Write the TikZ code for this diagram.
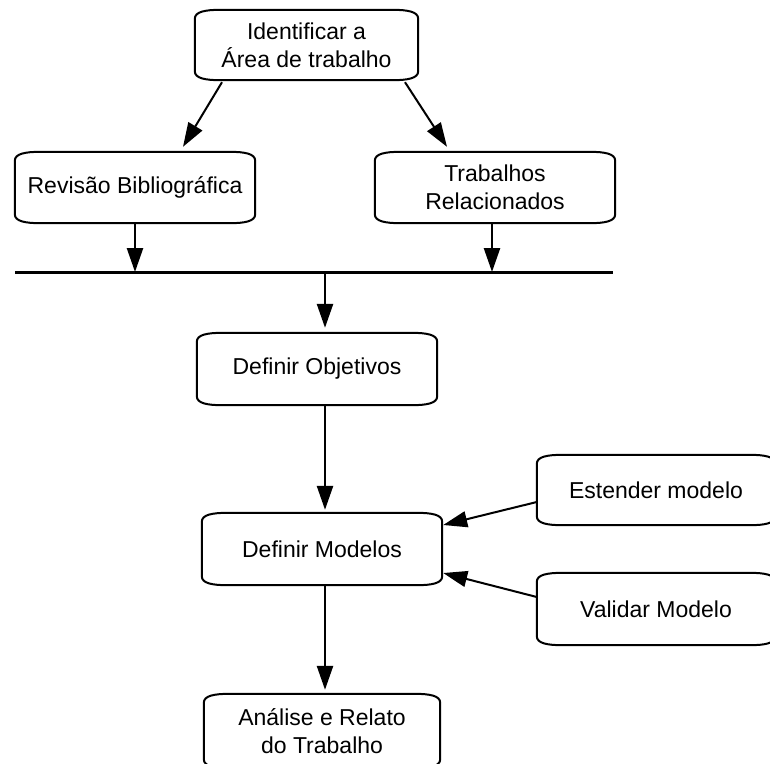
\documentclass[tikz,border=0pt]{standalone}
\usepackage{fontspec}
\setmainfont{Liberation Sans}
\usetikzlibrary{arrows.meta,calc}
\tikzset{
  boxn/.style={draw=none,inner sep=0pt,align=center,font=\fontsize{23}{28}\selectfont,minimum height=71pt},
  boxline/.style={line width=2pt,line join=round},
  arr/.style={line width=2.5pt,-{Triangle[length=24pt,width=16pt]}},
  arrthin/.style={line width=2pt,-{Triangle[length=24pt,width=16pt]}},
}
\newcommand\shapebox[1]{%
  \draw[boxline] ($(#1.north west)+(0,9)$) .. controls ($(#1.north west)+(0,2)$) and ($(#1.north west)+(10,0)$) .. ($(#1.north west)+(26,0)$)
   -- ($(#1.north east)+(-26,0)$) .. controls ($(#1.north east)+(-10,0)$) and ($(#1.north east)+(0,2)$) .. ($(#1.north east)+(0,9)$)
   -- ($(#1.south east)+(0,-9)$) .. controls ($(#1.south east)+(0,-2)$) and ($(#1.south east)+(-10,0)$) .. ($(#1.south east)+(-26,0)$)
   -- ($(#1.south west)+(26,0)$) .. controls ($(#1.south west)+(10,0)$) and ($(#1.south west)+(0,-2)$) .. ($(#1.south west)+(0,-9)$)
   -- cycle;}
\begin{document}
\begin{tikzpicture}[x=1pt,y=-1pt]
\useasboundingbox (0,0) rectangle (770,763);
\clip (0,0) rectangle (770,763);
\node[boxn,minimum width=223pt,minimum height=70pt] (top) at (306.5,45) {Identificar a\\Área de trabalho};
\node[boxn,minimum width=240pt] (rev) at (135,187.5) {Revisão Bibliográfica};
\node[boxn,minimum width=240pt] (trab) at (495,187.5) {Trabalhos\\Relacionados};
\node[boxn,minimum width=240pt,minimum height=72pt] (obj) at (317,369) {Definir Objetivos};
\node[boxn,minimum width=240pt,minimum height=72pt] (mod) at (322,549) {Definir Modelos};
\node[boxn,minimum width=238pt,minimum height=70pt] (est) at (656,490) {Estender modelo};
\node[boxn,minimum width=238pt,minimum height=72pt] (val) at (656,609) {Validar Modelo};
\node[boxn,minimum width=236pt,minimum height=74pt] (ana) at (322,731) {Análise e Relato\\do Trabalho};
\foreach \n in {top,rev,trab,obj,mod,est,val,ana} {\shapebox{\n}}
\coordinate (L1) at (15,272);
\coordinate (L2) at (613,272);
\coordinate (c) at (325,0);
\draw[line width=3pt] (L1) -- (L2);
\draw[arrthin] ($(top.south)+(-84.5,2)$) -- ($(rev.north)+(48,-5)$);
\draw[arrthin] ($(top.south)+(98.5,2)$) -- ($(trab.north)+(-48,-5)$);
\draw[arr] (rev.south) -- (rev.south |- L1);
\draw[arr] ($(trab.south)+(-3,0)$) -- ($(trab.south |- L1)+(-3,0)$);
\draw[arr] (L1 -| c) -- ($(obj.north -| c)+(0,-5)$);
\draw[arr] (obj.south -| c) -- ($(mod.north -| c)+(0,-3)$);
\draw[arr] (mod.south -| c) -- ($(ana.north -| c)+(0,-4)$);
\draw[arrthin] ($(est.west)+(0,12)$) -- ($(mod.east)+(1,-24)$);
\draw[arrthin] ($(val.west)+(0,-12)$) -- ($(mod.east)+(1,24)$);
\end{tikzpicture}
\end{document}
